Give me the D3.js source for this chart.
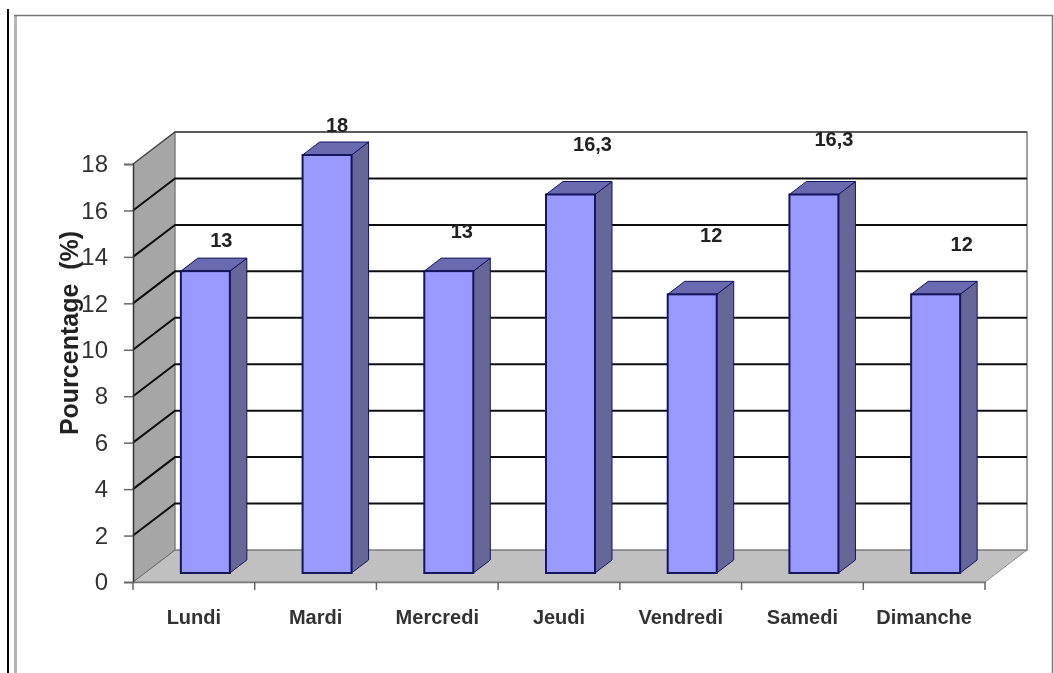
<!DOCTYPE html>
<html>
<head>
<meta charset="utf-8">
<script src="https://cdn.jsdelivr.net/npm/d3@7"></script>
<style>
  html, body { margin: 0; padding: 0; background: #fff; }
  svg { display: block; font-family: "Liberation Sans", Arial, sans-serif; }
</style>
</head>
<body>
<div id="chart"></div>
<script>
var days = ["Lundi", "Mardi", "Mercredi", "Jeudi", "Vendredi", "Samedi", "Dimanche"];
var percents = [13, 18, 13, 16.3, 12, 16.3, 12];
var valueLabels = ["13", "18", "13", "16,3", "12", "16,3", "12"];
var yTicks = [0, 2, 4, 6, 8, 10, 12, 14, 16, 18];

var width = 1054, height = 673;

var svg = d3.select("#chart").append("svg")
  .attr("width", width)
  .attr("height", height);

var defs = svg.append("defs");
defs.append("filter").attr("id", "soft")
  .append("feGaussianBlur").attr("stdDeviation", 0.5);

var root = svg.append("g").attr("filter", "url(#soft)");

// page frame
root.append("rect").attr("width", width).attr("height", height).attr("fill", "#fff");
root.append("line").attr("x1", 8).attr("x2", 8).attr("y1", 9).attr("y2", height)
  .attr("stroke", "#000").attr("stroke-width", 2);
root.append("line").attr("x1", 15.5).attr("x2", 15.5).attr("y1", 16).attr("y2", height)
  .attr("stroke", "#b5b5b5").attr("stroke-width", 3);
root.append("path").attr("d", "M14," + 15.5 + "H1052.5V" + height)
  .attr("fill", "none").attr("stroke", "#777").attr("stroke-width", 1.5);

// fake 3d: front plane + depth shift to the back wall
var x = d3.scaleBand().domain(days).range([133, 985]);
var y = d3.scaleLinear().domain([0, 18]).range([582, 164]);
var depth = {x: 42, y: -32};

// floor and walls
root.append("polygon")
  .attr("points", [[x.range()[0], y(0)], [x.range()[0] + depth.x, y(0) + depth.y],
    [x.range()[1] + depth.x, y(0) + depth.y], [x.range()[1], y(0)]].join(" "))
  .attr("fill", "#c0c0c0").attr("stroke", "#8c8c8c");
root.append("polygon")
  .attr("points", [[x.range()[0], y(0)], [x.range()[0], y(18)],
    [x.range()[0] + depth.x, y(18) + depth.y], [x.range()[0] + depth.x, y(0) + depth.y]].join(" "))
  .attr("fill", "#a6a6a6");
root.append("rect")
  .attr("x", x.range()[0] + depth.x).attr("y", y(18) + depth.y)
  .attr("width", x.range()[1] - x.range()[0]).attr("height", y(0) - y(18))
  .attr("fill", "#fff").attr("stroke", "#808080").attr("stroke-width", 1.5);

// gridlines, along the side wall then across the back
var grid = root.append("g").selectAll("path")
  .data(yTicks.filter(function(d) { return d > 0; }))
  .enter().append("path")
  .attr("fill", "none")
  .attr("stroke", function(d) { return d === 18 ? "#444" : "#111"; })
  .attr("stroke-width", function(d) { return d === 18 ? 1.5 : 2; })
  .attr("d", function(d) {
    return "M" + x.range()[0] + "," + y(d) +
      "L" + (x.range()[0] + depth.x) + "," + (y(d) + depth.y) +
      "H" + (x.range()[1] + depth.x);
  });
root.append("line")
  .attr("x1", x.range()[0] + depth.x).attr("x2", x.range()[0])
  .attr("y1", y(0) + depth.y).attr("y2", y(0))
  .attr("stroke", "#666").attr("stroke-width", 1);

// axes
var yAxis = root.append("g")
  .attr("transform", "translate(" + x.range()[0] + ",0)")
  .call(d3.axisLeft(y).tickValues(yTicks).tickSize(9).tickPadding(16));
yAxis.select(".domain").attr("stroke", "#333").attr("stroke-width", 1.5);
yAxis.selectAll(".tick line").attr("stroke", "#666").attr("stroke-width", 1.5);
yAxis.selectAll("text").attr("font-size", 24).attr("fill", "#333")
  .attr("font-family", "'Liberation Sans', Arial, sans-serif");

var xAxis = root.append("g")
  .attr("transform", "translate(0," + y(0) + ")")
  .call(d3.axisBottom(x).tickSize(0).tickPadding(28));
xAxis.select(".domain").attr("stroke", "#777").attr("stroke-width", 1.5);
xAxis.selectAll("text").attr("font-size", 20).attr("font-weight", "bold").attr("fill", "#333")
  .attr("font-family", "'Liberation Sans', Arial, sans-serif");

// tick marks sit between categories
root.append("g").selectAll("line")
  .data(days.concat(["end"]))
  .enter().append("line")
  .attr("x1", function(d, i) { return x.range()[0] + i * x.step(); })
  .attr("x2", function(d, i) { return x.range()[0] + i * x.step(); })
  .attr("y1", y(0)).attr("y2", y(0) + 8)
  .attr("stroke", "#666").attr("stroke-width", 1.5);

root.append("text")
  .attr("transform", "translate(78,333) rotate(-90)")
  .attr("text-anchor", "middle")
  .attr("font-size", 25).attr("font-weight", "bold").attr("fill", "#222")
  .attr("xml:space", "preserve")
  .text("Pourcentage  (%)");

// bars
var barW = 49, barShift = 11.5, barLift = 9, barDx = 17, barDy = -13;
var bars = root.append("g").selectAll("g")
  .data(percents)
  .enter().append("g")
  .attr("transform", function(d, i) {
    return "translate(" + (x(days[i]) + (x.bandwidth() - barW) / 2 + barShift) + ",0)";
  });

var barStroke = "#14145c";
bars.append("polygon")  // side
  .attr("points", function(d) {
    var t = y(d) - barLift, b = y(0) - barLift;
    return [[barW, t], [barW + barDx, t + barDy], [barW + barDx, b + barDy], [barW, b]].join(" ");
  })
  .attr("fill", "#666699").attr("stroke", barStroke).attr("stroke-width", 1);
bars.append("polygon")  // top
  .attr("points", function(d) {
    var t = y(d) - barLift;
    return [[0, t], [barDx, t + barDy], [barW + barDx, t + barDy], [barW, t]].join(" ");
  })
  .attr("fill", "#6a6ab0").attr("stroke", barStroke).attr("stroke-width", 1);
bars.append("rect")  // front
  .attr("y", function(d) { return y(d) - barLift; })
  .attr("width", barW)
  .attr("height", function(d) { return y(0) - y(d); })
  .attr("fill", "#9999ff").attr("stroke", barStroke).attr("stroke-width", 2);

// value labels were dragged around by hand in the original, so each has its own nudge
var labelNudge = [[16, -24], [10, -23], [13, -33], [22, -43], [19, -52], [20, -48], [26, -43]];
root.append("g").selectAll("text")
  .data(valueLabels)
  .enter().append("text")
  .attr("x", function(d, i) { return x(days[i]) + x.bandwidth() / 2 + barShift + labelNudge[i][0]; })
  .attr("y", function(d, i) { return y(percents[i]) - barLift + labelNudge[i][1]; })
  .attr("text-anchor", "middle")
  .attr("font-size", 20).attr("font-weight", "bold").attr("fill", "#222")
  .text(function(d) { return d; });
</script>
</body>
</html>
